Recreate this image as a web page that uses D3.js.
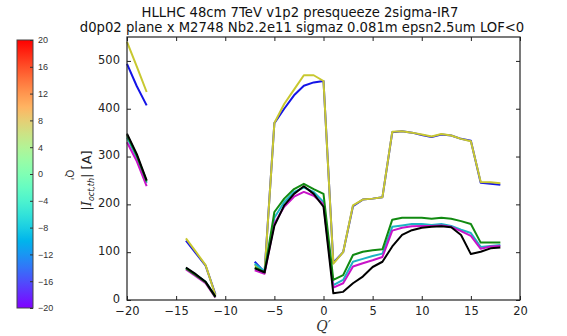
<!doctype html>
<html lang="en">
<head>
    <meta charset="utf-8">
    <title>HLLHC octupole threshold vs Q'</title>
    <script src="https://cdn.jsdelivr.net/npm/d3@7"></script>
    <style>
        body { margin: 0; background: #fff; }
        svg { font-family: "DejaVu Sans", sans-serif; }
    </style>
</head>
<body>
    <svg></svg>
    <script>
        var width = 567;
        var height = 336;

        // chromaticity values, null marks a gap in the scan
        var qPrime = d3.range(-20, 19);
        var yellowVals = [540, 488, 435, null, null, null, 129, 101, 73, 10, null, null, null,
            73, 56, 370, 410, 440, 470, 470, 458, 76, 100, 198, 210, 212, 215, 352, 353, 350, 346, 342, 347, 344, 337, 332, 247, 246, 244];
        var blueVals = [494, 447, 407, null, null, null, 124, 98, 72, 12, null, null, null,
            80, 58, 370, 400, 428, 448, 455, 458, 78, 100, 196, 210, 212, 215, 351, 353, 350, 345, 341, 346, 344, 337, 333, 245, 243, 241];
        var greenVals = [345, 302, 248, null, null, null, 66, 52, 37, 6, null, null, null,
            68, 58, 184, 212, 232, 243, 232, 222, 42, 52, 94, 101, 104, 106, 168, 172, 172, 172, 170, 172, 170, 165, 159, 120, 120, 120];
        var cyanVals = [340, 298, 245, null, null, null, 67, 53, 38, 7, null, null, null,
            76, 60, 172, 205, 226, 235, 226, 205, 31, 42, 80, 86, 92, 97, 153, 156, 159, 159, 157, 159, 155, 147, 140, 111, 113, 115];
        var magentaVals = [330, 290, 238, null, null, null, 64, 50, 35, 5, null, null, null,
            62, 55, 160, 195, 216, 226, 218, 200, 26, 35, 70, 77, 83, 90, 145, 151, 154, 155, 155, 156, 153, 144, 134, 107, 112, 113];
        var blackVals = [348, 305, 250, null, null, null, 68, 54, 38, 7, null, null, null,
            66, 58, 155, 198, 222, 238, 222, 195, 14, 17, 35, 49, 69, 80, 112, 136, 146, 151, 153, 154, 152, 136, 96, 101, 108, 110];

        var xTicks = [-20, -15, -10, -5, 0, 5, 10, 15, 20];
        var yTicks = [0, 100, 200, 300, 400, 500];
        var cbTicks = [-20, -16, -12, -8, -4, 0, 4, 8, 12, 16, 20];

        var seriesList = [
            { vals: blueVals, color: "#1414e6" },
            { vals: yellowVals, color: "#c8c830" },
            { vals: cyanVals, color: "#1cb4c4" },
            { vals: magentaVals, color: "#c814c8" },
            { vals: greenVals, color: "#118a11" },
            { vals: blackVals, color: "#000000" }
        ];

        var axLeft = 127, axRight = 520, axTop = 37, axBottom = 300;
        var minus = function (v) { return String(v).replace("-", "\u2212"); };

        var svg = d3.select("svg").attr("width", width).attr("height", height);

        var xScale = d3.scaleLinear().domain([-20, 20]).range([axLeft, axRight]);
        var yScale = d3.scaleLinear().domain([0, 550]).range([axBottom, axTop]);

        // title
        var title = svg.append("text").attr("text-anchor", "middle")
            .attr("font-size", 13.2).attr("fill", "#111");
        title.append("tspan").attr("x", 300).attr("y", 17).text("HLLHC 48cm 7TeV v1p2 presqueeze 2sigma-IR7");
        title.append("tspan").attr("x", 302).attr("y", 32).text("d0p02 plane x M2748 Nb2.2e11 sigmaz 0.081m epsn2.5um LOF<0");

        // lines
        var line = d3.line()
            .defined(function (d) { return d[1] != null; })
            .x(function (d) { return xScale(d[0]); })
            .y(function (d) { return yScale(d[1]); });

        svg.append("g").selectAll("path")
            .data(seriesList)
            .enter()
            .append("path")
            .attr("fill", "none")
            .attr("stroke", function (d) { return d.color; })
            .attr("stroke-width", 2)
            .attr("stroke-linejoin", "round")
            .attr("d", function (d) {
                return line(qPrime.map(function (q, i) { return [q, d.vals[i]]; }));
            });

        // axes with inward ticks on all four sides
        var xAxis = d3.axisBottom(xScale).tickValues(xTicks).tickSizeInner(-4).tickSizeOuter(0)
            .tickPadding(9).tickFormat(minus);
        var yAxis = d3.axisLeft(yScale).tickValues(yTicks).tickSizeInner(-4).tickSizeOuter(0)
            .tickPadding(7);
        var xTop = d3.axisTop(xScale).tickValues(xTicks).tickSizeInner(-4).tickSizeOuter(0).tickFormat("");
        var yRight = d3.axisRight(yScale).tickValues(yTicks).tickSizeInner(-4).tickSizeOuter(0).tickFormat("");

        svg.append("g").attr("class", "axis-x").attr("transform", "translate(0," + axBottom + ")").call(xAxis);
        svg.append("g").attr("class", "axis-y").attr("transform", "translate(" + axLeft + ",0)").call(yAxis);
        svg.append("g").attr("transform", "translate(0," + axTop + ")").call(xTop);
        svg.append("g").attr("transform", "translate(" + axRight + ",0)").call(yRight);

        svg.selectAll(".domain").remove();
        svg.selectAll(".tick line").attr("stroke", "#222");
        svg.selectAll(".tick text").attr("font-size", 11.5).attr("fill", "#222")
            .attr("font-family", "DejaVu Sans, sans-serif");
        svg.select(".axis-x").selectAll(".tick text").attr("dy", "0.55em");
        svg.select(".axis-y").selectAll(".tick text").attr("dy", "0.2em");

        svg.append("rect")
            .attr("x", axLeft).attr("y", axTop)
            .attr("width", axRight - axLeft).attr("height", axBottom - axTop)
            .attr("fill", "none").attr("stroke", "#222").attr("stroke-width", 1.2);

        // axis labels
        svg.append("text").attr("x", (axLeft + axRight) / 2).attr("y", 331)
            .attr("text-anchor", "middle").attr("font-size", 14)
            .attr("font-family", "DejaVu Serif, serif").attr("font-style", "italic")
            .attr("fill", "#333").text("Q\u2032");

        var ylab = svg.append("text")
            .attr("transform", "translate(91," + ((axTop + axBottom) / 2 + 12) + ") rotate(-90)")
            .attr("text-anchor", "middle").attr("font-size", 13).attr("fill", "#222");
        ylab.append("tspan").text("|");
        ylab.append("tspan").attr("font-family", "DejaVu Serif, serif").attr("font-style", "italic").text("I");
        ylab.append("tspan").attr("font-size", 8).attr("font-style", "italic").attr("dy", 3).text("oct,th");
        ylab.append("tspan").attr("dy", -3).text("| [A]");

        // colorbar (matplotlib rainbow)
        var cbX = 17, cbW = 16, cbTop = 40, cbBottom = 308;
        var cbScale = d3.scaleLinear().domain([-20, 20]).range([cbBottom, cbTop]);
        var rainbow = function (t) {
            var r = Math.min(1, Math.abs(2 * t - 0.5));
            var g = Math.sin(Math.PI * t);
            var b = Math.cos(Math.PI * t / 2);
            return d3.rgb(r * 255, g * 255, b * 255).toString();
        };
        var grad = svg.append("defs").append("linearGradient")
            .attr("id", "cbgrad").attr("x1", 0).attr("y1", 1).attr("x2", 0).attr("y2", 0);
        grad.selectAll("stop")
            .data(d3.range(0, 1.0001, 0.05))
            .enter()
            .append("stop")
            .attr("offset", function (d) { return d; })
            .attr("stop-color", rainbow);

        svg.append("rect")
            .attr("x", cbX).attr("y", cbTop).attr("width", cbW).attr("height", cbBottom - cbTop)
            .attr("fill", "url(#cbgrad)").attr("stroke", "#444").attr("stroke-width", 1);

        var cbAxis = d3.axisRight(cbScale).tickValues(cbTicks).tickSizeInner(-3).tickSizeOuter(0)
            .tickPadding(5).tickFormat(minus);
        var cbG = svg.append("g").attr("transform", "translate(" + (cbX + cbW) + ",0)").call(cbAxis);
        cbG.select(".domain").remove();
        cbG.selectAll(".tick line").attr("stroke", "#333");
        cbG.selectAll(".tick text").attr("font-size", 9).attr("fill", "#333");

        svg.append("text")
            .attr("transform", "translate(66,175) rotate(90)")
            .attr("text-anchor", "middle").attr("font-size", 10).attr("fill", "#333")
            .text("Q'");
    </script>
</body>
</html>
